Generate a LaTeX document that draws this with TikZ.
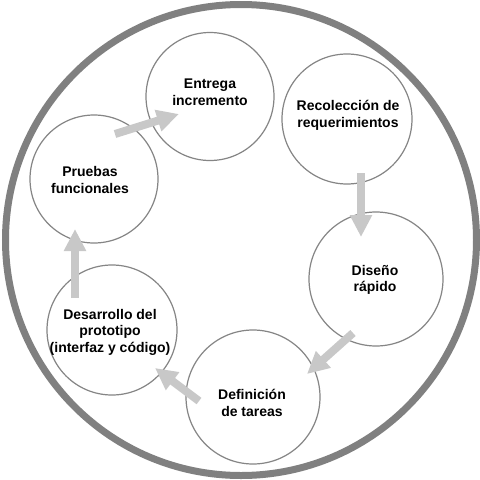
\documentclass[tikz,border=0pt]{standalone}
\usepackage{fontspec}
\setmainfont{Liberation Sans}
\usetikzlibrary{arrows.meta}
\definecolor{ringgray}{HTML}{808080}
\definecolor{circgray}{HTML}{858585}
\definecolor{arrgray}{HTML}{C8C8C8}
\tikzset{
  stage/.style={circle, draw=circgray, line width=1.2pt, fill=white, inner sep=0pt,
    minimum size=#1},
  stage/.default=130pt,
  label text/.style={align=center, inner sep=0pt, font=\bfseries\fontsize{14}{16.5}\selectfont},
  flow/.style={draw=arrgray, line width=8pt, -{Triangle[width=21pt,length=22pt]}},
}
\begin{document}
\begin{tikzpicture}[x=1pt,y=-1pt]
\useasboundingbox (0,0) rectangle (480,480);
\fill[white] (0,0) rectangle (480,480);
\draw[ringgray, line width=7pt] (241,240) circle (235.5);
\node[stage=128pt] (ent) at (210,96.5) {};
\node[stage=130pt] (rec) at (347,119) {};
\node[stage=134pt] (dis) at (376,279) {};
\node[stage=134pt] (def) at (253,397) {};
\node[stage=130pt] (des) at (112,330) {};
\node[stage=128pt] (pru) at (94,179) {};
\node[label text] (tent) at (210,92) {Entrega\\incremento};
\node[label text] (trec) at (348,115.5) {Recolección de\\requerimientos};
\node[label text] (tdis) at (375,280) {Diseño\\rápido};
\node[label text] (tdef) at (252,403) {Definición\\de tareas};
\node[label text] (tdes) at (110,332) {Desarrollo del\\prototipo\\(interfaz y código)};
\node[label text] (tpru) at (90,180) {Pruebas\\funcionales};
\coordinate (a1s) at (361,173);
\coordinate (a1e) at (361,237);
\coordinate (a2s) at (353,333);
\coordinate (a2e) at (307,374);
\coordinate (a3s) at (199,401);
\coordinate (a3e) at (155,368);
\coordinate (a4s) at (75,298);
\coordinate (a4e) at (75,229);
\coordinate (a5s) at (115,134);
\coordinate (a5e) at (179,114);
\draw[flow] (a1s) -- (a1e);
\draw[flow] (a2s) -- (a2e);
\draw[flow] (a3s) -- (a3e);
\draw[flow] (a4s) -- (a4e);
\draw[flow] (a5s) -- (a5e);
\end{tikzpicture}
\end{document}
